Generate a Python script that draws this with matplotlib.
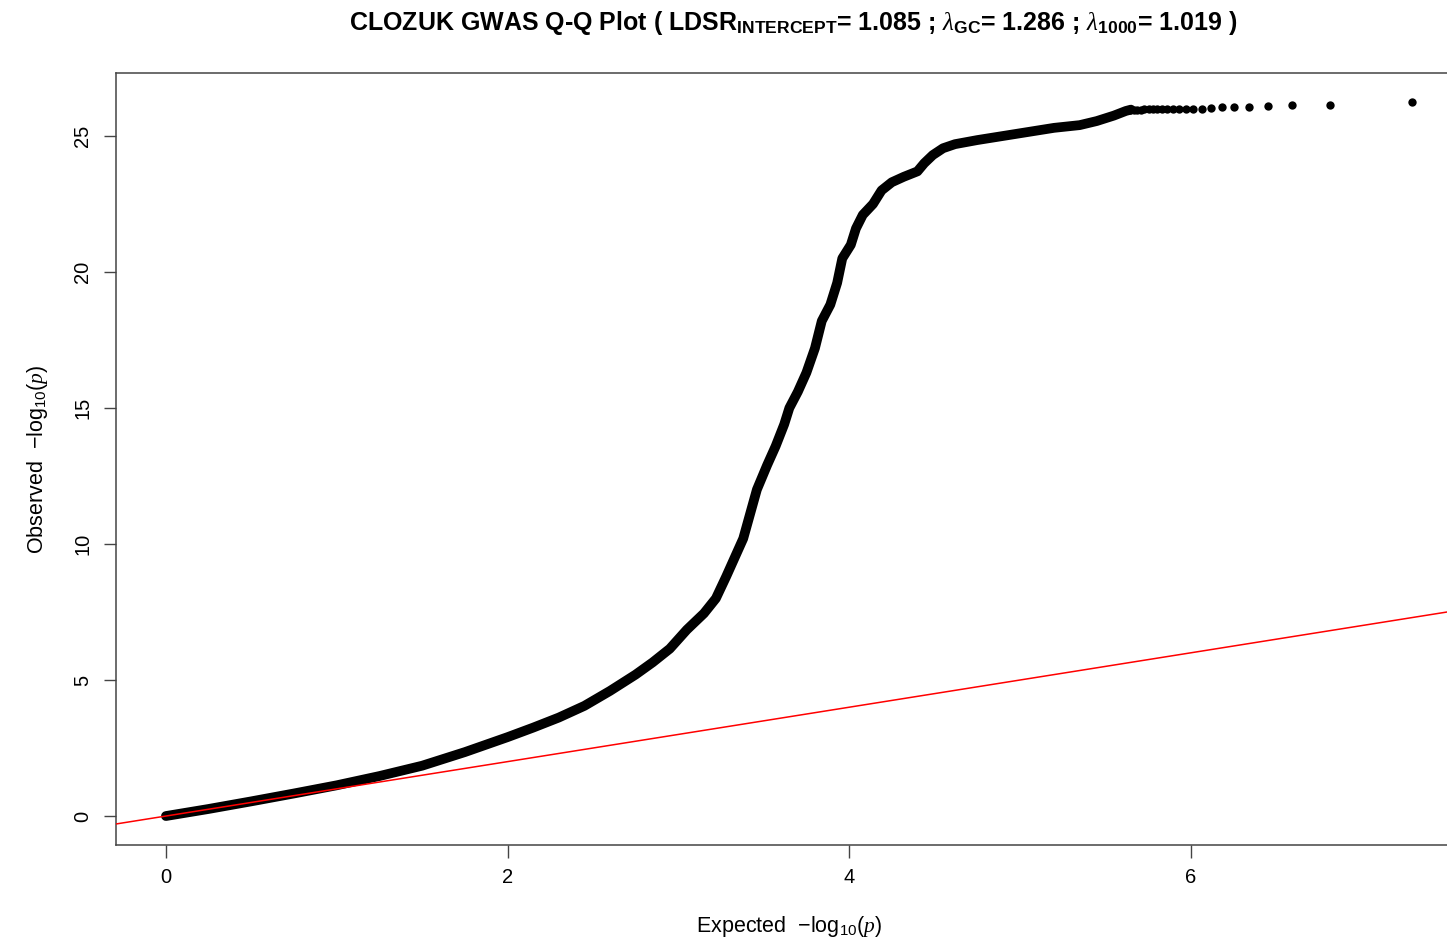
import numpy as np
import matplotlib
matplotlib.use("Agg")
import matplotlib.pyplot as plt

plt.rcParams['font.family'] = ['Liberation Sans', 'DejaVu Sans']
plt.rcParams['mathtext.fontset'] = 'custom'
plt.rcParams['mathtext.rm'] = 'Liberation Sans'
plt.rcParams['mathtext.it'] = 'Liberation Serif:italic'
plt.rcParams['mathtext.bf'] = 'Liberation Sans:bold'

# main body of the Q-Q curve (expected vs observed -log10 p)
body_expected = [0.0, 0.25, 0.5, 0.75, 1.0, 1.25, 1.5, 1.75, 2.0, 2.15, 2.3, 2.45,
                 2.6, 2.75, 2.85, 2.95, 3.05, 3.15, 3.22, 3.28, 3.33, 3.38, 3.42,
                 3.46, 3.52, 3.57, 3.62, 3.65, 3.70, 3.75, 3.80, 3.84, 3.89, 3.93,
                 3.96, 4.01, 4.04, 4.08, 4.14, 4.19, 4.25, 4.32, 4.40, 4.44, 4.49,
                 4.55, 4.62, 4.75, 4.9, 5.05, 5.2, 5.35, 5.45, 5.55, 5.62, 5.65]
body_observed = [0.0, 0.26, 0.54, 0.83, 1.13, 1.47, 1.85, 2.35, 2.9, 3.25, 3.62, 4.05,
                 4.6, 5.2, 5.65, 6.15, 6.85, 7.45, 8.0, 8.8, 9.5, 10.2, 11.1,
                 12.0, 12.9, 13.6, 14.4, 15.0, 15.6, 16.3, 17.2, 18.2, 18.8, 19.6,
                 20.5, 21.0, 21.6, 22.1, 22.5, 23.0, 23.3, 23.5, 23.7, 24.0, 24.3,
                 24.55, 24.7, 24.85, 25.0, 25.15, 25.3, 25.4, 25.55, 25.75, 25.92, 25.97]

# top-ranked SNPs drawn as separate points
tail_expected = [7.295, 6.818, 6.596, 6.450, 6.341, 6.254, 6.181, 6.119, 6.065,
                 6.016, 5.973, 5.934, 5.898, 5.864, 5.834, 5.805, 5.778, 5.753,
                 5.729, 5.707, 5.686, 5.666, 5.647]
tail_observed = [26.25, 26.13, 26.13, 26.10, 26.08, 26.07, 26.05, 26.03, 26.01,
                 26.0, 26.0, 26.0, 25.99, 25.99, 25.99, 25.98, 25.98, 25.98,
                 25.98, 25.97, 25.97, 25.97, 25.97]

x_ticks = [0, 2, 4, 6]
y_ticks = [0, 5, 10, 15, 20, 25]

title = (r'CLOZUK GWAS Q-Q Plot ( LDSR$_{\mathbf{INTERCEPT}}$= 1.085 ; '
         r'$\lambda_{\mathbf{GC}}$= 1.286 ; $\lambda_{\mathbf{1000}}$= 1.019 )')

fig = plt.figure(figsize=(14.47, 9.44), dpi=100)
ax = fig.add_axes([0.0802, 0.1053, 0.930, 0.8169])

ax.plot(body_expected, body_observed, color='black', lw=7.0,
        solid_capstyle='round', solid_joinstyle='round', zorder=2)
ax.plot(tail_expected, tail_observed, 'o', color='black', ms=6, mew=0, zorder=2)
ax.axline((0, 0), slope=1, color='red', lw=1.1, zorder=3)

ax.set_xlim(-0.292, 7.587)
ax.set_ylim(-1.05, 27.3)
ax.set_xticks(x_ticks)
ax.set_yticks(y_ticks)
ax.tick_params(length=9, width=1.0, color='#444444', labelsize=14.5, pad=8)
for lab in ax.get_yticklabels():
    lab.set_rotation(90)
    lab.set_va('center')
for sp in ax.spines.values():
    sp.set_color('#444444')
    sp.set_linewidth(1.1)

ax.set_xlabel(r'Expected  $-\mathrm{log}_{10}(p)$', fontsize=15.5, labelpad=19)
ax.set_ylabel(r'Observed  $-\mathrm{log}_{10}(p)$', fontsize=15.5, labelpad=17)
fig.suptitle(title, x=0.548, y=0.99, fontsize=18, fontweight='bold')

fig.savefig('out.png', dpi=100)
